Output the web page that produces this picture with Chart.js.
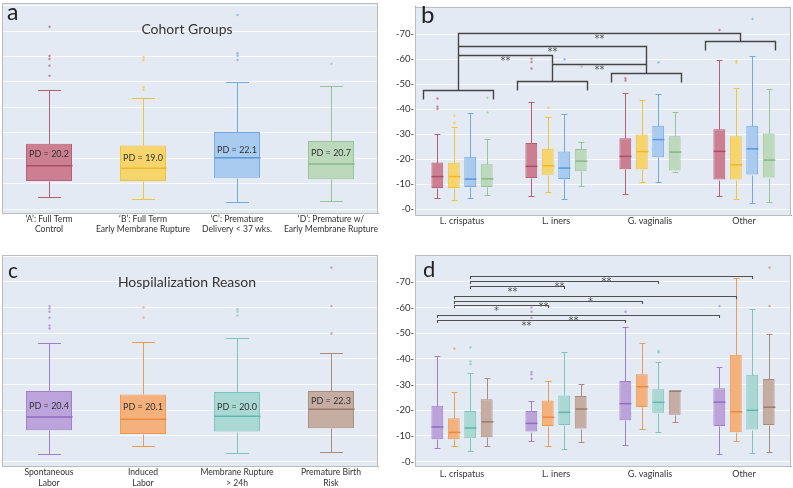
<!DOCTYPE html>
<html>
<head>
<meta charset="utf-8">
<script src="https://cdn.jsdelivr.net/npm/chart.js@4.4.0/dist/chart.umd.min.js"></script>
<style>
  body { margin: 0; background: #fff; }
  #wrap { position: relative; width: 793px; height: 488px; }
  .panel { position: absolute; }
</style>
</head>
<body>
<div id="wrap">
  <div class="panel" style="left:0;top:0;width:380px;height:240px"><canvas id="chartA"></canvas></div>
  <div class="panel" style="left:390px;top:0;width:403px;height:240px"><canvas id="chartB"></canvas></div>
  <div class="panel" style="left:0;top:245px;width:380px;height:243px"><canvas id="chartC"></canvas></div>
  <div class="panel" style="left:390px;top:245px;width:403px;height:243px"><canvas id="chartD"></canvas></div>
</div>
<script>
// ---- panel a: cohort groups ----
const cohortLabels = [["\u2018A\u2019: Full Term", "Control"], ["\u2018B\u2019: Full Term", "Early Membrane Rupture"],
                      ["\u2018C\u2019: Premature", "Delivery < 37 wks."], ["\u2018D\u2019: Premature w/", "Early Membrane Rupture"]];
const cohortLow = [5.0, 3.9, 2.9, 3.3];
const cohortQ1 = [11.1, 11.1, 12.4, 11.8];
const cohortMedian = [17.1, 16.1, 20.2, 17.8];
const cohortQ3 = [25.7, 25.1, 30.4, 26.8];
const cohortHigh = [46.9, 43.8, 50.1, 48.3];
const cohortOutliers = [[71.7, 60.2, 59.0, 56.4, 52.4], [59.7, 58.6, 47.9, 46.9], [76.3, 61.3, 60.3, 58.6], [57.1]];
const cohortPD = [20.2, 19.0, 22.1, 20.7];

// ---- panel c: hospitalization reason ----
const reasonLabels = [["Spontaneous", "Labor"], ["Induced", "Labor"], ["Membrane Rupture", "> 24h"], ["Premature Birth", "Risk"]];
const reasonLow = [2.9, 6.0, 3.2, 3.6];
const reasonQ1 = [12.2, 10.8, 11.7, 13.0];
const reasonMedian = [17.4, 16.5, 17.7, 20.4];
const reasonQ3 = [27.5, 26.2, 27.1, 27.5];
const reasonHigh = [46.1, 46.6, 48.1, 42.2];
const reasonOutliers = [[60.6, 59.7, 58.4, 56.1, 53.0, 51.9], [60.1, 56.1], [59.4, 58.4, 56.9], [75.6, 60.6, 49.9]];
const reasonPD = [20.4, 20.1, 20.0, 22.3];

// ---- panels b and d: by taxon, rows = cohort / reason ----
const taxa = ['L. crispatus', 'L. iners', 'G. vaginalis', 'Other'];
const yTicks = [0, 10, 20, 30, 40, 50, 60, 70];

const cohortLowByTaxon = [[4.7, 5.5, 6.2, 5.2], [3.7, 6.8, 11.1, 4.1], [4.7, 4.3, 10.9, 2.5], [5.6, 9.4, 14.9, 3.0]];
const cohortQ1ByTaxon = [[8.5, 12.5, 16.0, 11.9], [8.5, 13.8, 16.0, 11.9], [8.9, 12.1, 20.8, 13.9], [8.9, 15.2, 15.5, 12.7]];
const cohortMedianByTaxon = [[13.1, 17.2, 21.2, 23.2], [13.1, 17.4, 23.1, 17.8], [12.1, 16.5, 27.9, 24.2], [12.2, 19.3, 22.9, 19.7]];
const cohortQ3ByTaxon = [[18.7, 26.5, 28.4, 32.0], [18.6, 24.2, 29.9, 29.2], [21.0, 23.1, 33.4, 33.4], [18.0, 24.1, 29.2, 30.3]];
const cohortHighByTaxon = [[30.1, 42.9, 46.7, 59.8], [32.8, 36.8, 43.6, 48.5], [38.7, 38.1, 46.0, 61.1], [28.2, 27.1, 38.9, 48.2]];
const cohortOutliersByTaxon = [
  [[44.3, 41.0, 40.1], [60.2, 58.9, 56.3], [52.4, 51.5], [71.7]],
  [[37.4, 34.5], [40.6], [], [59.3, 58.6]],
  [[], [60.0], [58.7], [76.1]],
  [[44.6, 38.7], [57.0], [], []]
];

const reasonLowByTaxon = [[5.2, 7.9, 6.5, 2.9], [6.1, 6.0, 12.7, 8.1], [4.0, 4.8, 11.4, 3.2], [6.0, 7.8, 15.6, 3.6]];
const reasonQ1ByTaxon = [[8.7, 11.7, 16.1, 13.9], [8.7, 13.9, 21.3, 11.4], [9.1, 14.3, 19.0, 12.5], [9.5, 12.9, 18.3, 14.3]];
const reasonMedianByTaxon = [[13.5, 14.9, 22.6, 23.2], [11.4, 17.3, 29.2, 19.4], [13.1, 19.2, 23.1, 20.0], [15.5, 20.5, 27.5, 21.2]];
const reasonQ3ByTaxon = [[21.8, 19.7, 31.4, 28.6], [16.9, 23.8, 34.0, 41.6], [19.7, 25.8, 28.2, 33.8], [24.3, 25.6, 27.5, 32.2]];
const reasonHighByTaxon = [[41.3, 23.8, 52.3, 36.8], [27.0, 31.3, 46.4, 71.4], [34.7, 42.6, 39.0, 59.5], [32.7, 30.4, 27.7, 49.9]];
const reasonOutliersByTaxon = [
  [[], [60.0, 58.4, 56.1, 34.9, 34.0, 32.3], [58.4], [60.6]],
  [[44.0], [60.4], [], []],
  [[44.5, 39.0, 37.9], [], [43.1, 42.6], []],
  [[], [], [], [75.6, 60.6]]
];

// significance brackets, panel b (taxon vs taxon)
const groupBracketTop = [47.7, 51.4, 54.4, 67.1];
const sigFrom = [0, 0, 0, 1];
const sigTo = [3, 2, 1, 2];
const sigLevel = [70.3, 65.4, 61.5, 58.3];
const sigMark = ['**', '**', '**', '**'];

// significance brackets, panel d (same reason, L. crispatus vs other taxon)
const pairSeries = [2, 2, 2, 1, 1, 1, 0, 0];
const pairTarget = [3, 2, 1, 3, 2, 1, 3, 2];
const pairLevel = [72.5, 70.4, 68.4, 64.7, 62.7, 60.9, 57.1, 55.2];
const pairMark = ['**', '**', '**', '*', '**', '*', '**', '**'];

const cohortFill = ['#cb7f90', '#f6d66c', '#a9cbef', '#bcd9bc'];
const cohortLine = ['#b85d75', '#efc43c', '#72a9e0', '#96c496'];
const cohortMed = ['#ad4c67', '#eab928', '#5b98d8', '#85b885'];
const reasonFill = ['#bda3db', '#f4b17c', '#aad9d3', '#c5ada1'];
const reasonLine = ['#9f80c8', '#ef9a55', '#7cc5bc', '#a98c80'];
const reasonMed = ['#8f6dbd', '#e98a40', '#5fb7ad', '#9b7b6e'];

const FONT = 'Lato, "Open Sans", sans-serif';
const STAR_FONT = '10px "DejaVu Sans", sans-serif';

const frame = {
  id: 'frame',
  beforeDraw(chart) {
    const { ctx, chartArea: a } = chart;
    ctx.save();
    ctx.fillStyle = '#e4eaf4';
    ctx.fillRect(a.left, a.top, a.width, a.height);
    ctx.restore();
  },
  afterDraw(chart) {
    const { ctx, chartArea: a } = chart;
    ctx.save();
    ctx.strokeStyle = '#bcbcbc';
    ctx.lineWidth = 1;
    ctx.strokeRect(Math.round(a.left) + 0.5, Math.round(a.top) + 0.5, Math.round(a.width) - 1, Math.round(a.height));
    ctx.restore();
  }
};

const boxWhiskers = {
  id: 'boxWhiskers',
  afterDatasetsDraw(chart) {
    const ctx = chart.ctx, ys = chart.scales.y;
    chart.data.datasets.forEach((ds, di) => {
      chart.getDatasetMeta(di).data.forEach((bar, i) => {
        const pick = v => Array.isArray(v) ? v[i] : v;
        const x = Math.round(bar.x) + 0.5, half = bar.width / 2, cap = bar.width / 4;
        const py = v => Math.round(ys.getPixelForValue(v)) + 0.5;
        ctx.save();
        ctx.strokeStyle = pick(ds.borderColor);
        ctx.lineWidth = 1;
        ctx.beginPath();
        ctx.moveTo(x, py(ds.q3[i])); ctx.lineTo(x, py(ds.high[i]));
        ctx.moveTo(x - cap, py(ds.high[i])); ctx.lineTo(x + cap, py(ds.high[i]));
        ctx.moveTo(x, py(ds.q1[i])); ctx.lineTo(x, py(ds.low[i]));
        ctx.moveTo(x - cap, py(ds.low[i])); ctx.lineTo(x + cap, py(ds.low[i]));
        ctx.stroke();
        ctx.strokeStyle = pick(ds.medianColor);
        ctx.lineWidth = 1.5;
        ctx.beginPath();
        ctx.moveTo(x - half, ys.getPixelForValue(ds.median[i]));
        ctx.lineTo(x + half, ys.getPixelForValue(ds.median[i]));
        ctx.stroke();
        ctx.fillStyle = pick(ds.borderColor);
        ctx.globalAlpha = 0.7;
        ds.outliers[i].forEach(v => {
          ctx.beginPath();
          ctx.arc(x, ys.getPixelForValue(v), 1.2, 0, Math.PI * 2);
          ctx.fill();
        });
        ctx.restore();
      });
    });
  }
};

function panelText(letter, lx, ly, lsize, title, tx, ty, pd) {
  return {
    id: 'panelText',
    afterDraw(chart) {
      const ctx = chart.ctx;
      ctx.save();
      ctx.fillStyle = '#222';
      ctx.textBaseline = 'alphabetic';
      ctx.textAlign = 'left';
      ctx.font = lsize + 'px ' + FONT;
      ctx.fillText(letter, lx, ly);
      if (title) {
        ctx.fillStyle = '#333';
        ctx.textAlign = 'center';
        ctx.font = '14px ' + FONT;
        ctx.fillText(title, tx, ty);
      }
      if (pd) {
        const meta = chart.getDatasetMeta(0), ys = chart.scales.y;
        ctx.font = '9px ' + FONT;
        ctx.textAlign = 'center';
        ctx.textBaseline = 'middle';
        ctx.fillStyle = '#333';
        pd.forEach((v, i) => {
          ctx.fillText('PD = ' + v.toFixed(1), meta.data[i].x, ys.getPixelForValue(v + 1.3));
        });
      }
      ctx.restore();
    }
  };
}

const groupBrackets = {
  id: 'groupBrackets',
  afterDatasetsDraw(chart) {
    const ctx = chart.ctx, xs = chart.scales.x, ys = chart.scales.y;
    const cx = i => Math.round(xs.getPixelForValue(i) - 4) + 0.5;
    const py = v => Math.round(ys.getPixelForValue(v)) + 0.5;
    ctx.save();
    ctx.strokeStyle = '#454545';
    ctx.lineWidth = 1.4;
    ctx.beginPath();
    groupBracketTop.forEach((v, i) => {
      const legs = py(v - 3.6);
      ctx.moveTo(cx(i) - 35, legs); ctx.lineTo(cx(i) - 35, py(v));
      ctx.lineTo(cx(i) + 35, py(v)); ctx.lineTo(cx(i) + 35, legs);
    });
    sigFrom.forEach((f, k) => {
      const t = sigTo[k];
      ctx.moveTo(cx(f), py(groupBracketTop[f]));
      ctx.lineTo(cx(f), py(sigLevel[k]));
      ctx.lineTo(cx(t), py(sigLevel[k]));
      ctx.lineTo(cx(t), py(groupBracketTop[t]));
    });
    ctx.stroke();
    ctx.fillStyle = '#555';
    ctx.font = STAR_FONT;
    ctx.textAlign = 'center';
    ctx.textBaseline = 'top';
    sigFrom.forEach((f, k) => {
      ctx.fillText(sigMark[k], (cx(f) + cx(sigTo[k])) / 2, py(sigLevel[k]) + 0.5);
    });
    ctx.restore();
  }
};

const pairBrackets = {
  id: 'pairBrackets',
  afterDatasetsDraw(chart) {
    const ctx = chart.ctx, ys = chart.scales.y;
    const py = v => Math.round(ys.getPixelForValue(v)) + 0.5;
    ctx.save();
    ctx.strokeStyle = '#505050';
    ctx.lineWidth = 1.1;
    ctx.fillStyle = '#555';
    ctx.font = STAR_FONT;
    ctx.textAlign = 'center';
    ctx.textBaseline = 'top';
    pairSeries.forEach((s, k) => {
      const bars = chart.getDatasetMeta(s).data;
      const x0 = Math.round(bars[0].x) + 0.5, x1 = Math.round(bars[pairTarget[k]].x) + 0.5;
      const y = py(pairLevel[k]);
      ctx.beginPath();
      ctx.moveTo(x0, y + 2.5); ctx.lineTo(x0, y); ctx.lineTo(x1, y); ctx.lineTo(x1, y + 2.5);
      ctx.stroke();
      ctx.fillText(pairMark[k], (x0 + x1) / 2 - 5, y + 0.5);
    });
    ctx.restore();
  }
};

function singleBoxChart(id, labels, low, q1, med, q3, high, outliers, fills, lines, meds, yMin, yMax, xHeight, padTop, lineH, extra) {
  return new Chart(document.getElementById(id), {
    type: 'bar',
    data: {
      labels: labels,
      datasets: [{
        data: q1.map((v, i) => [v, q3[i]]),
        low: low, q1: q1, median: med, q3: q3, high: high, outliers: outliers,
        backgroundColor: fills, borderColor: lines, medianColor: meds,
        borderWidth: 1, borderSkipped: false,
        categoryPercentage: 1, barPercentage: 0.49
      }]
    },
    options: {
      responsive: true, maintainAspectRatio: false, animation: false,
      layout: { padding: { left: 2, right: 2, top: padTop, bottom: 0 } },
      plugins: { legend: { display: false }, tooltip: { enabled: false } },
      scales: {
        x: {
          grid: { display: false, drawTicks: false },
          border: { color: '#a8a8a8' },
          ticks: { color: '#333', padding: 1, font: { family: FONT, size: 8.6, lineHeight: lineH }, maxRotation: 0, autoSkip: false },
          afterFit: s => { s.height = xHeight; }
        },
        y: {
          min: yMin, max: yMax,
          ticks: { display: false, stepSize: 10, includeBounds: false },
          grid: { color: 'rgba(255,255,255,0.75)', drawTicks: false },
          border: { display: false },
          afterFit: s => { s.width = 0; }
        }
      }
    },
    plugins: [frame, boxWhiskers, extra]
  });
}

function groupedBoxChart(id, low, q1, med, q3, high, outliers, fills, lines, meds, yMin, yMax, xHeight, padTop, labelPad, extras) {
  return new Chart(document.getElementById(id), {
    type: 'bar',
    data: {
      labels: taxa,
      datasets: fills.map((f, s) => ({
        data: q1[s].map((v, i) => [v, q3[s][i]]),
        low: low[s], q1: q1[s], median: med[s], q3: q3[s], high: high[s], outliers: outliers[s],
        backgroundColor: f, borderColor: lines[s], medianColor: meds[s],
        borderWidth: 1, borderSkipped: false,
        categoryPercentage: 0.7, barPercentage: 0.72
      }))
    },
    options: {
      responsive: true, maintainAspectRatio: false, animation: false,
      layout: { padding: { left: 0, right: 2, top: padTop, bottom: 0 } },
      plugins: { legend: { display: false }, tooltip: { enabled: false } },
      scales: {
        x: {
          grid: { display: false, drawTicks: false },
          border: { color: '#9a9a9a' },
          ticks: { color: '#333', padding: labelPad, font: { family: FONT, size: 9 } },
          afterFit: s => { s.height = xHeight; }
        },
        y: {
          min: yMin, max: yMax,
          afterBuildTicks: s => { s.ticks = yTicks.map(v => ({ value: v })); },
          ticks: { color: '#333', padding: 1, font: { family: FONT, size: 9.5 }, callback: v => '-' + v + '-' },
          grid: { color: 'rgba(255,255,255,0.75)', drawTicks: false },
          border: { color: '#9a9a9a' },
          afterFit: s => { s.width = 25; }
        }
      }
    },
    plugins: [frame, boxWhiskers].concat(extras)
  });
}

singleBoxChart('chartA', cohortLabels, cohortLow, cohortQ1, cohortMedian, cohortQ3, cohortHigh, cohortOutliers,
  cohortFill, cohortLine, cohortMed, -1.45, 81, 27, 3, 1.2,
  panelText('a', 7, 20, 23, 'Cohort Groups', 187, 34, cohortPD));

groupedBoxChart('chartB', cohortLowByTaxon, cohortQ1ByTaxon, cohortMedianByTaxon, cohortQ3ByTaxon, cohortHighByTaxon,
  cohortOutliersByTaxon, cohortFill, cohortLine, cohortMed, -2.24, 81, 25, 3, 1,
  [groupBrackets, panelText('b', 31, 23, 24, null)]);

singleBoxChart('chartC', reasonLabels, reasonLow, reasonQ1, reasonMedian, reasonQ3, reasonHigh, reasonOutliers,
  reasonFill, reasonLine, reasonMed, -1.7, 80.5, 22, 10, 1.25,
  panelText('c', 8, 32.5, 21, 'Hospilalization Reason', 187, 42, reasonPD));

groupedBoxChart('chartD', reasonLowByTaxon, reasonQ1ByTaxon, reasonMedianByTaxon, reasonQ3ByTaxon, reasonHighByTaxon,
  reasonOutliersByTaxon, reasonFill, reasonLine, reasonMed, -1.7, 80.5, 22, 10, 2.5,
  [pairBrackets, panelText('d', 33, 32, 22, null)]);
</script>
</body>
</html>
